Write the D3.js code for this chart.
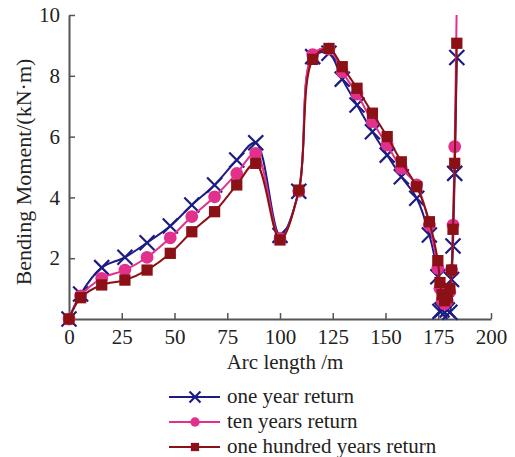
<!DOCTYPE html>
<html>
<head>
<meta charset="utf-8">
<script src="https://cdn.jsdelivr.net/npm/d3@7"></script>
<style>
  body { margin: 0; background: #fff; }
</style>
</head>
<body>
<div id="chart"></div>
<script>
// arc length (m), shared by the three series
const arcLength = [0, 5.5, 15.5, 26.5, 37, 48, 58.2, 69, 79.5, 88.5, 100, 108.9, 115.5, 123.2,
  129.5, 136.5, 143.8, 150.8, 157.5, 164.8, 170.8, 174.8, 175.8, 176.8, 178, 179.3, 180.5,
  181.3, 182, 182.8, 183.8];

// bending moment (kN·m)
const oneYear = [0, 0.82, 1.69, 2.03, 2.51, 3.06, 3.75, 4.41, 5.23, 5.8, 2.75, 4.2, 8.63, 8.74,
  7.89, 7.04, 6.16, 5.39, 4.68, 3.97, 2.76, 1.39, 0.25, 0.3, 0.4, 0.3, 0.22,
  1.3, 2.4, 4.79, 8.6];
const tenYears = [0, 0.76, 1.34, 1.61, 2.03, 2.67, 3.37, 4.02, 4.79, 5.45, 2.65, 4.2, 8.7, 8.88,
  8.13, 7.4, 6.49, 5.72, 4.96, 4.41, 3.09, 1.67, 1.0, 0.6, 0.5, 0.6, 0.9,
  1.61, 3.09, 5.67, 10.6];
const hundredYears = [0, 0.7, 1.12, 1.28, 1.61, 2.16, 2.87, 3.53, 4.41, 5.12, 2.6, 4.24, 8.54, 8.9,
  8.3, 7.59, 6.77, 6.0, 5.17, 4.35, 3.2, 1.92, 1.2, 0.8, 0.6, 0.7, 1.0,
  1.61, 2.95, 5.12, 9.07];

const seriesNames = ["one year return", "ten years return", "one hundred years return"];
const xTicks = [0, 25, 50, 75, 100, 125, 150, 175, 200];
const yTicks = [2, 4, 6, 8, 10];

const FONT = '"Liberation Serif", "Times New Roman", Times, "DejaVu Serif", serif';

const width = 515, height = 457;
const margin = { left: 69, right: 24, top: 15, bottom: 138 };

const svg = d3.select("#chart").append("svg")
  .attr("width", width)
  .attr("height", height);

const x = d3.scaleLinear().domain([0, 200]).range([margin.left, width - margin.right]);
const y = d3.scaleLinear().domain([0, 10]).range([height - margin.bottom, margin.top]);

// axes (ticks point inwards)
const axisColor = "#555";
const xAxis = svg.append("g")
  .attr("transform", `translate(0,${y(0)})`)
  .call(d3.axisBottom(x).tickValues(xTicks).tickSizeInner(-6).tickSizeOuter(0).tickPadding(10));
const yAxis = svg.append("g")
  .attr("transform", `translate(${x(0)},0)`)
  .call(d3.axisLeft(y).tickValues(yTicks).tickSizeInner(-6).tickSizeOuter(0).tickPadding(9));

[xAxis, yAxis].forEach(g => {
  g.attr("font-family", FONT).attr("font-size", 21);
  g.select(".domain").attr("stroke", axisColor).attr("stroke-width", 2);
  g.selectAll(".tick line").attr("stroke", axisColor).attr("stroke-width", 1.5);
  g.selectAll(".tick text").attr("fill", "#222");
});

// axis titles
svg.append("text")
  .attr("x", 285).attr("y", 369)
  .attr("text-anchor", "middle")
  .attr("font-family", FONT).attr("font-size", 21).attr("fill", "#222")
  .text("Arc length /m");

svg.append("text")
  .attr("transform", `translate(31,172) rotate(-90)`)
  .attr("text-anchor", "middle")
  .attr("font-family", FONT).attr("font-size", 22).attr("fill", "#222")
  .text("Bending Moment/(kN·m)");

// plot area clip
svg.append("clipPath").attr("id", "plot")
  .append("rect")
  .attr("x", x(0) - 10).attr("y", y(10))
  .attr("width", x(200) - x(0) + 20).attr("height", y(0) - y(10) + 10);

const series = [
  { name: seriesNames[0], values: oneYear, color: "#1c1c84", marker: "x" },
  { name: seriesNames[1], values: tenYears, color: "#e2318c", marker: "circle" },
  { name: seriesNames[2], values: hundredYears, color: "#8b1116", marker: "square" }
];

const line = d3.line()
  .x(d => x(d[0]))
  .y(d => y(d[1]))
  .curve(d3.curveCatmullRom.alpha(0.5));

function drawMarker(g, type, color, s) {
  if (type === "x") {
    g.append("path")
      .attr("d", `M${-s},${-s}L${s},${s}M${-s},${s}L${s},${-s}`)
      .attr("stroke", color).attr("stroke-width", 2.2).attr("fill", "none");
  } else if (type === "circle") {
    g.append("circle").attr("r", s * 0.85).attr("fill", color);
  } else {
    g.append("rect")
      .attr("x", -s * 0.75).attr("y", -s * 0.75)
      .attr("width", s * 1.5).attr("height", s * 1.5)
      .attr("fill", color);
  }
}

const plot = svg.append("g").attr("clip-path", "url(#plot)");

series.forEach(s => {
  const pts = arcLength.map((a, i) => [a, s.values[i]]);
  plot.append("path")
    .datum(pts)
    .attr("d", line)
    .attr("fill", "none")
    .attr("stroke", s.color)
    .attr("stroke-width", 2);

  pts.forEach(p => {
    const g = plot.append("g").attr("transform", `translate(${x(p[0])},${y(p[1])})`);
    drawMarker(g, s.marker, s.color, 7.5);
  });
});

// legend
const legend = svg.append("g");
series.forEach((s, i) => {
  const cy = 397 + i * 25;
  legend.append("line")
    .attr("x1", 169).attr("x2", 220)
    .attr("y1", cy).attr("y2", cy)
    .attr("stroke", s.color).attr("stroke-width", 2);
  const g = legend.append("g").attr("transform", `translate(195,${cy})`);
  drawMarker(g, s.marker, s.color, 5.5);
  legend.append("text")
    .attr("x", 227).attr("y", cy + 6)
    .attr("font-family", FONT).attr("font-size", 21).attr("fill", "#222")
    .text(s.name);
});
</script>
</body>
</html>
